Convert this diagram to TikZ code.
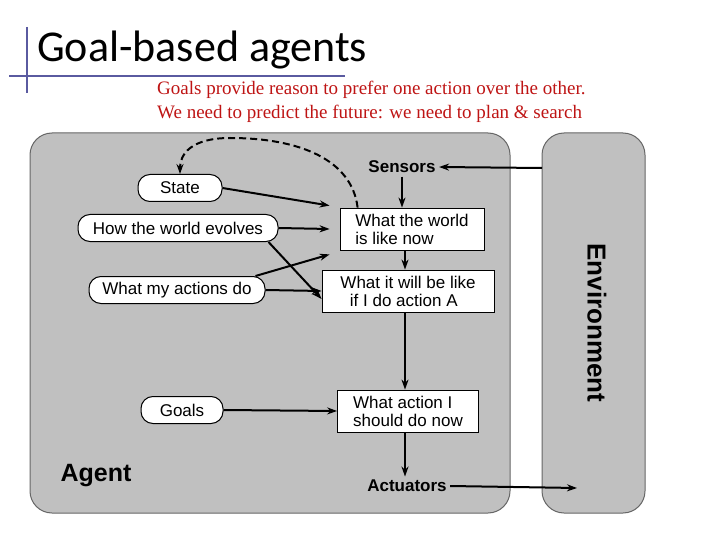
\documentclass[tikz,border=0pt]{standalone}
\usepackage{fontspec}
\setmainfont{Liberation Serif}
\newfontfamily\calfnt{Carlito}
\newfontfamily\hv{Liberation Sans}
\usetikzlibrary{arrows.meta}
\definecolor{bg}{RGB}{192,192,192}
\definecolor{ttl}{RGB}{90,90,160}
\definecolor{rd}{RGB}{190,20,20}
\begin{document}
\begin{tikzpicture}[x=1pt,y=-1pt,
  pill/.style={draw=black,line width=1pt,fill=white,rounded corners=12pt,minimum height=27pt,font=\hv\fontsize{17}{19}\selectfont,inner sep=2pt},
  box/.style={draw=black,line width=0.8pt,fill=white,minimum height=42pt,font=\hv\fontsize{17}{18}\selectfont,align=left,inner sep=2pt},
  arr/.style={-{Stealth[length=10pt,width=7pt]},line width=2pt},
  lbl/.style={font=\hv\bfseries\fontsize{17}{19}\selectfont}]
\useasboundingbox (0,0) rectangle (720,540);
\draw[ttl,line width=2pt] (27,27) -- (27,93);
\draw[ttl,line width=2pt] (9,76) -- (345,76);
\node[anchor=base west,font=\calfnt\fontsize{44}{48}\selectfont,inner sep=0] (title) at (37,62) {Goal-based agents};
\node[rd,font=\fontsize{19}{24}\selectfont,align=left,anchor=north west,inner sep=0] (sub) at (157,81) {Goals provide reason to prefer one action over the other.\\We need to predict the future: we need to plan \& search};
\draw[black!60,line width=1pt,fill=bg,rounded corners=22pt] (30,133) rectangle (510,513);
\draw[black!60,line width=1pt,fill=bg,rounded corners=22pt] (542,133) rectangle (645,513);
\node[pill,minimum width=84pt] (state) at (180,188) {State};
\node[pill,minimum width=200pt] (how) at (178,228) {How the world evolves};
\node[pill,minimum width=176pt] (my) at (177,290) {What my actions do};
\node[pill,minimum width=82pt] (goals) at (182,410) {Goals};
\node[box,minimum width=144pt] (world) at (412,229) {What the world\\is like now};
\node[box,minimum width=172pt] (will) at (408,291) {What it will be like\\\ \ if I do action A};
\node[box,minimum width=141pt] (act) at (408,411) {What action I\\should do now};
\node[lbl] (sens) at (402,167) {Sensors};
\node[lbl] (actu) at (407,486) {Actuators};
\node[font=\hv\bfseries\fontsize{25}{28}\selectfont] (agent) at (96,476) {Agent};
\node[font=\hv\bfseries\fontsize{26}{28}\selectfont,rotate=-90] (env) at (597,323) {Environment};
\coordinate (envin) at (542,168);
\coordinate (envout) at (577,488);
\coordinate (vx) at (405,0);
\draw[arr] (envin) -- (sens.east);
\draw[arr] (sens.south) -- (world.north -| sens.south);
\draw[arr] (actu.east) -- (envout);
\draw[arr,dashed,dash pattern=on 7pt off 4pt] ([xshift=18pt]world.north west)
  .. controls (352,160) and (300,138) .. (230,138) .. controls (190,138) and (180,155) .. (state.north);
\draw[arr] (state.east) -- ([xshift=-10pt,yshift=2pt]world.north west);
\draw[arr] (how.east) -- ([xshift=-10pt]world.west);
\draw[arr] ([xshift=-10pt]how.south east) -- ([yshift=-8pt]will.west);
\draw[arr] ([xshift=-10pt]my.north east) -- ([xshift=-10pt,yshift=-4pt]world.south west);
\draw[arr] (my.east) -- (will.west);
\draw[arr] (world.south -| vx) -- (will.north -| vx);
\draw[arr] (will.south -| vx) -- (act.north -| vx);
\draw[arr] (goals.east) -- (act.west);
\draw[arr] (act.south -| vx) -- (actu.north -| vx);
\end{tikzpicture}
\end{document}
